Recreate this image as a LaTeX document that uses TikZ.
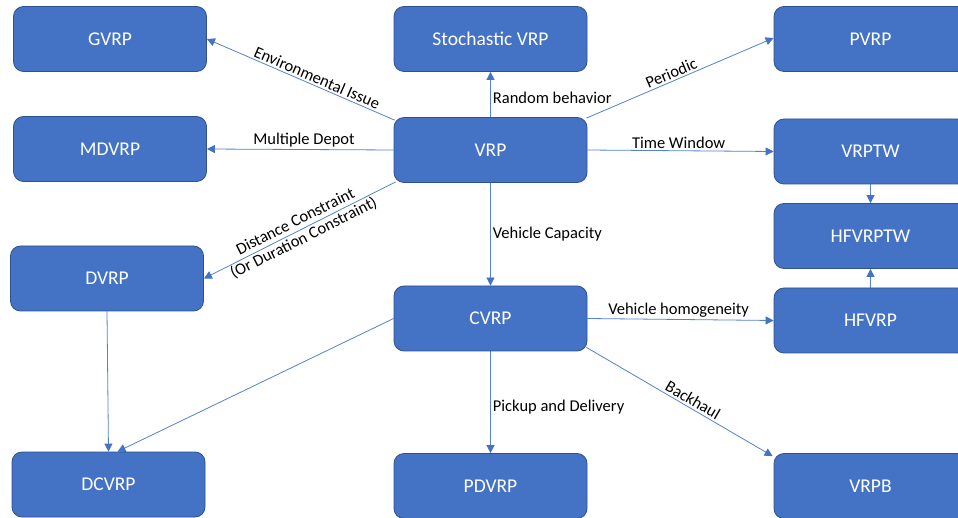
\documentclass[tikz,border=0pt]{standalone}
\usepackage{fontspec}
\setmainfont{Carlito}
\usetikzlibrary{arrows.meta}
\pgfdeclarelayer{background}
\pgfdeclarelayer{canvas}
\pgfsetlayers{canvas,background,main}
\definecolor{boxfill}{HTML}{4472C4}
\definecolor{boxline}{HTML}{2F528F}
\definecolor{linkcol}{HTML}{5582D0}
\definecolor{tipcol}{HTML}{4472C4}
\tikzset{
  vbox/.style={draw=boxline, fill=boxfill, line width=0.8pt, rounded corners=10pt,
    minimum width=193pt, minimum height=65pt, inner sep=0pt,
    text=white, font=\fontsize{19.5}{22}\selectfont},
  link/.style={draw=linkcol, line width=0.8pt,
    -{Triangle[length=8pt,width=8pt,color=tipcol]}},
  revlink/.style={draw=linkcol, line width=0.8pt,
    {Triangle[length=8pt,width=8pt,color=tipcol]}-},
  lbl/.style={font=\fontsize{16.5}{18.5}\selectfont, text=black, inner sep=2pt}
}
\begin{document}
\begin{tikzpicture}[x=1pt, y=-1pt]
\useasboundingbox (0,0) rectangle (958,518);
\clip (0,0) rectangle (958,518);
\begin{pgfonlayer}{canvas}
\fill[white] (0,0) rectangle (958,518);
\end{pgfonlayer}

% problem variants
\node[vbox] (GVRP)    at (110,39)    {GVRP};
\node[vbox] (MDVRP)   at (110,149)   {MDVRP};
\node[vbox] (SVRP)    at (490.5,39)  {Stochastic VRP};
\node[vbox] (VRP)     at (490.5,150) {VRP};
\node[vbox] (PVRP)    at (870.5,39)  {PVRP};
\node[vbox] (VRPTW)   at (870.5,151.5) {VRPTW};
\node[vbox] (HFVRPTW) at (870.5,236) {HFVRPTW};
\node[vbox] (HFVRP)   at (870.5,320.5) {HFVRP};
\node[vbox] (DVRP)    at (107,278.5) {DVRP};
\node[vbox] (CVRP)    at (490.5,318.5) {CVRP};
\node[vbox] (DCVRP)   at (108.5,484.5) {DCVRP};
\node[vbox] (PDVRP)   at (490.5,486) {PDVRP};
\node[vbox] (VRPB)    at (870.5,486) {VRPB};

% extensions
\begin{pgfonlayer}{background}
\draw[revlink] (GVRP.east) -- ([shift={(1,3)}]VRP.north west)
  node[lbl, pos=0.57, sloped, above] {Environmental Issue};
\draw[revlink] (MDVRP.east) -- (VRP.west)
  node[lbl, pos=0.52, above] {Multiple Depot};
\draw[link] (VRP.north) -- (SVRP.south)
  node[lbl, pos=0.43, anchor=west] {Random behavior};
\draw[link] ([shift={(-1,1)}]VRP.north east) -- ([yshift=1]PVRP.west)
  node[lbl, pos=0.47, sloped, above] {Periodic};
\draw[link] (VRP.east) -- (VRPTW.west)
  node[lbl, pos=0.49, above] {Time Window};
\draw[link] (VRPTW.south) -- (HFVRPTW.north);
\draw[link] (HFVRP.north) -- (HFVRPTW.south);
\draw[revlink] (DVRP.east) -- ([shift={(2,-1)}]VRP.south west)
  node[lbl, pos=0.5, sloped, align=center] {Distance Constraint\\(Or Duration Constraint)};
\draw[link] (VRP.south) -- (CVRP.north)
  node[lbl, pos=0.5, anchor=west] {Vehicle Capacity};
\draw[link] (CVRP.east) -- (HFVRP.west)
  node[lbl, pos=0.49, above] {Vehicle homogeneity};
\draw[link] ([shift={(-1,-4)}]CVRP.south east) -- ([shift={(-1,3)}]VRPB.north west)
  node[lbl, pos=0.55, sloped, above] {Backhaul};
\draw[link] (CVRP.south) -- (PDVRP.north)
  node[lbl, pos=0.55, anchor=west] {Pickup and Delivery};
\draw[link] (CVRP.west) -- ([xshift=9pt]DCVRP.north);
\draw[link] (DVRP.south) -- (DCVRP.north);
\end{pgfonlayer}
\end{tikzpicture}
\end{document}
